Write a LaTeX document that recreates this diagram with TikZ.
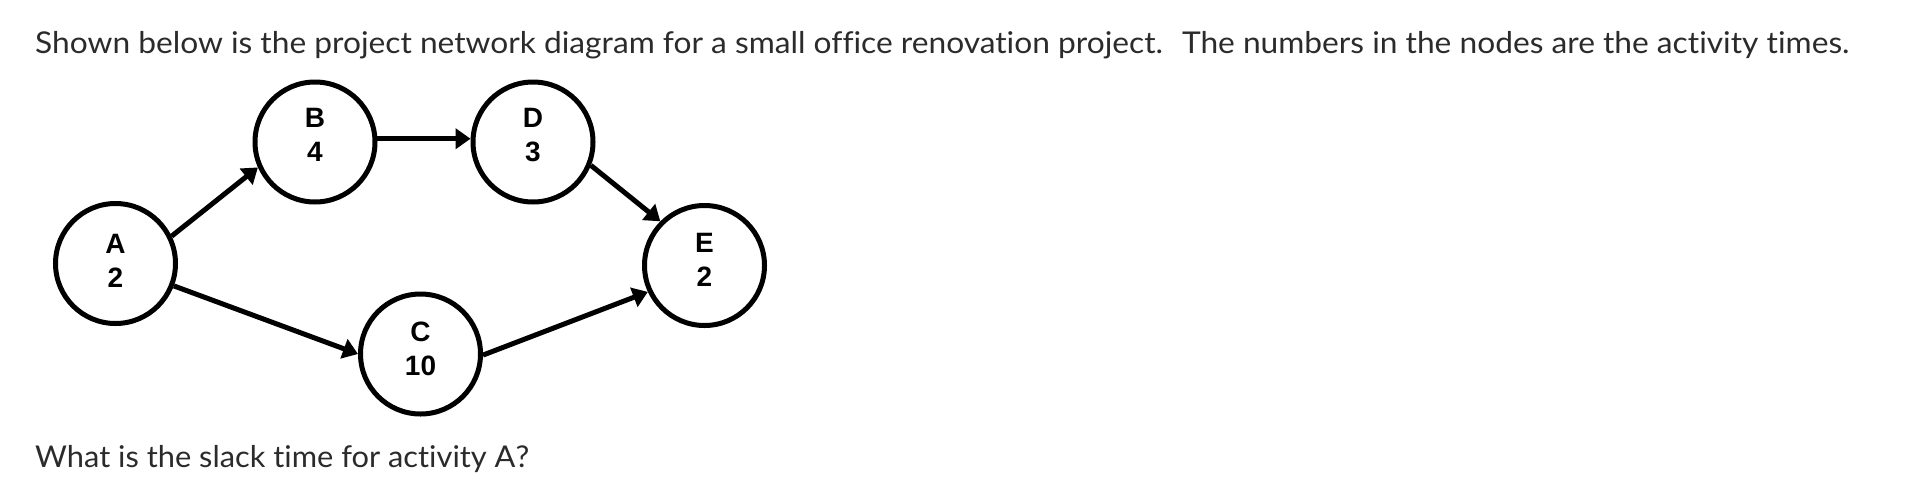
\documentclass[tikz,border=0pt]{standalone}
\usepackage{fontspec}
\setmainfont{Lato}[Ligatures={NoCommon,NoRequired,NoContextual}]
\newfontfamily\arialfont{Liberation Sans}
\usetikzlibrary{arrows.meta}
\definecolor{txt}{HTML}{2B2B2B}
\begin{document}
\begin{tikzpicture}[x=1pt,y=-1pt,
  act/.style={circle,draw=black,line width=5pt,minimum size=120pt,inner sep=0pt},
  lbl/.style={align=center,inner sep=0pt,font=\arialfont\bfseries\fontsize{28}{34}\selectfont},
  conn/.style={line width=5pt,-{Triangle[length=15pt,width=20pt]}},
  para/.style={anchor=base west,inner sep=0pt,text=txt,font=\fontsize{30}{36}\selectfont}]
\useasboundingbox[fill=white] (0,0) rectangle (1920,496);
\node[para] (title) at (35,53) {\resizebox{1814pt}{\height}{Shown below is the project network diagram for a small office renovation project.~ The numbers in the nodes are the activity times.}};
\node[para] (question) at (35,467.5) {\resizebox{494pt}{\height}{What is the slack time for activity A?}};
\node[act] (A) at (115.5,263.5) {};
\node[act] (B) at (315,142) {};
\node[act] (D) at (533,142) {};
\node[act] (C) at (420.5,354) {};
\node[act] (E) at (704.5,265.5) {};
\node[lbl] (Al) at (115.5,260.5) {A\\2};
\node[lbl] (Bl) at (315,134.5) {B\\4};
\node[lbl] (Dl) at (533,135) {D\\3};
\node[lbl] (Cl) at (420.5,349) {C\\10};
\node[lbl] (El) at (704.5,260) {E\\2};
\draw[conn] (A.26) -- (B.204);
\draw[conn] (B.3) -- (D.177);
\draw[conn] (D.-22) -- (E.135);
\draw[conn] (A.-21) -- (C.180);
\draw[conn] (C.-1) -- (E.205);
\end{tikzpicture}
\end{document}
